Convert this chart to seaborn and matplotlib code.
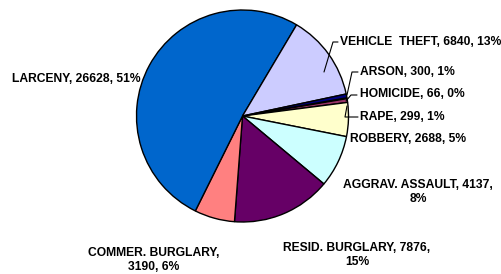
import matplotlib
matplotlib.use("Agg")
import matplotlib.pyplot as plt
import seaborn as sns

# crime counts, in the original sheet order (Excel default fill colours)
crimes = ["HOMICIDE", "RAPE", "ROBBERY", "AGGRAV. ASSAULT", "RESID. BURGLARY",
          "COMMER. BURGLARY", "LARCENY", "VEHICLE  THEFT", "ARSON"]
counts = [66, 299, 2688, 4137, 7876, 3190, 26628, 6840, 300]
colors = ["#9999FF", "#993366", "#FFFFCC", "#CCFFFF", "#660066",
          "#FF8080", "#0066CC", "#CCCCFF", "#000080"]

W, H = 502, 274

# label layout in pixels (x, y from top-left), alignment, parts on first line
label_layout = {
    "HOMICIDE": (360, 94, "left", None),
    "RAPE": (360, 117, "left", None),
    "ROBBERY": (350, 139, "left", None),
    "AGGRAV. ASSAULT": (418, 192, "center", 2),
    "RESID. BURGLARY": (357, 255, "center", 2),
    "COMMER. BURGLARY": (154, 260, "center", 1),
    "LARCENY": (12, 79, "left", None),
    "VEHICLE  THEFT": (340, 42, "left", None),
    "ARSON": (360, 72, "left", None),
}

# leader lines (pixel polylines)
leaders = [
    [(338, 42), (333, 42), (324, 72)],
    [(358, 72), (352, 72), (347, 95)],
    [(357, 95), (351, 95), (346, 101)],
    [(358, 117), (345, 117), (347, 106)],
]

sns.set_style("white")

fig = plt.figure(figsize=(W / 100, H / 100), dpi=100)
ax = fig.add_axes([0, 0, 1, 1])

ax.pie(counts, colors=colors, center=(242.5, H - 116), radius=106,
       startangle=9.9, counterclock=False,
       wedgeprops=dict(edgecolor="black", linewidth=1.0))

total = sum(counts)
for name, c in zip(crimes, counts):
    x, y, ha, brk = label_layout[name]
    parts = [name, str(c), f"{round(100 * c / total)}%"]
    if brk is None:
        txt = ", ".join(parts)
    else:
        txt = ", ".join(parts[:brk]) + ",\n" + ", ".join(parts[brk:])
    ax.text(x, H - y, txt, ha=ha, va="center", multialignment="center",
            fontsize=8.7, fontweight="bold", family="Liberation Sans",
            color="black", linespacing=1.3)

for pts in leaders:
    xs = [p[0] for p in pts]
    ys = [H - p[1] for p in pts]
    ax.plot(xs, ys, color="black", linewidth=0.8)

ax.set_xlim(0, W)
ax.set_ylim(0, H)
ax.set_aspect("equal")
ax.axis("off")

fig.savefig("out.png", dpi=100)
